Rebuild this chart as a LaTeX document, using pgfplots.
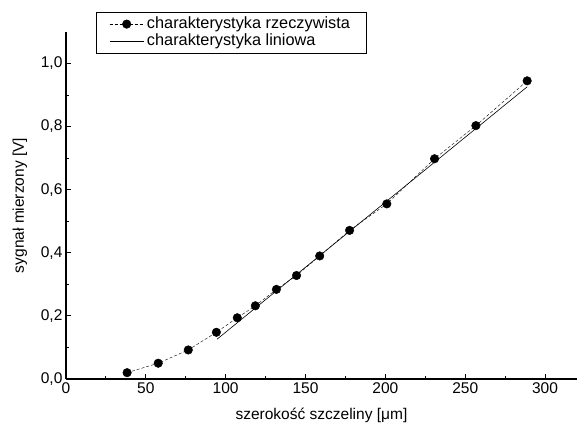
\documentclass[border=0pt]{standalone}
\usepackage{pgfplots}
\pgfplotsset{compat=1.18}
\usepackage{fontspec}
\setmainfont{Liberation Sans}
\newcommand{\ff}{\fontsize{15.5}{17}\selectfont}
\newcommand{\fl}{\fontsize{16.3}{18}\selectfont}
\begin{document}
\begin{tikzpicture}
\begin{axis}[
  scale only axis,
  width=511pt, height=347pt,
  xmin=0, xmax=320, ymin=0, ymax=1.1,
  axis x line=bottom, axis y line=left,
  axis line style={-, line width=1.2pt},
  tick align=inside,
  major tick length=5pt, minor tick length=3pt,
  xtick={0,50,...,300}, ytick={0,0.2,...,1.0},
  minor x tick num=1, minor y tick num=1,
  tick style={black, line width=0.8pt},
  tick label style={font=\ff},
  label style={font=\ff},
  /pgf/number format/assume math mode=true,
  yticklabel style={/pgf/number format/.cd, fixed, fixed zerofill, precision=1, use comma},
  xticklabel style={/pgf/number format/.cd, fixed, precision=0},
  xlabel={szerokość szczeliny [μm]},
  ylabel={sygnał mierzony [V]},
  xlabel style={yshift=-8pt},
  ylabel style={yshift=7pt},
  legend style={at={(rel axis cs:0.059,1.058)}, anchor=north west, draw=black, line width=0.6pt,
    font=\fl, nodes={inner ysep=1pt, inner xsep=3pt, text height=11.5pt, text depth=3.5pt}, row sep=0pt, inner xsep=13pt, inner ysep=3.5pt},
  legend image code/.code={\draw[mark repeat=2, mark phase=2, #1] plot coordinates {(0pt,0pt) (17pt,0pt) (34pt,0pt)};},
  legend cell align=left,
  clip=false,
]
\addplot[black, densely dashed, line width=0.4pt, mark=*, mark size=4.3pt, mark options={solid}] coordinates {
(38.3,0.020) (57.8,0.050) (76.6,0.092) (94.2,0.148) (107.3,0.194)
(118.6,0.232) (131.8,0.284) (144.4,0.328) (158.9,0.390) (177.6,0.471)
(200.9,0.555) (230.8,0.698) (256.7,0.803) (288.8,0.945)
};
\addlegendentry{charakterystyka rzeczywista}
\addplot[black, line width=0.6pt] coordinates {(94.6,0.126) (288.8,0.926)};
\addlegendentry{charakterystyka liniowa}
\coordinate (bl) at (rel axis cs:-0.129,-0.144);
\coordinate (tr) at (rel axis cs:1.0,1.092);
\end{axis}
\pgfresetboundingbox
\path (bl) rectangle (tr);
\end{tikzpicture}
\end{document}
